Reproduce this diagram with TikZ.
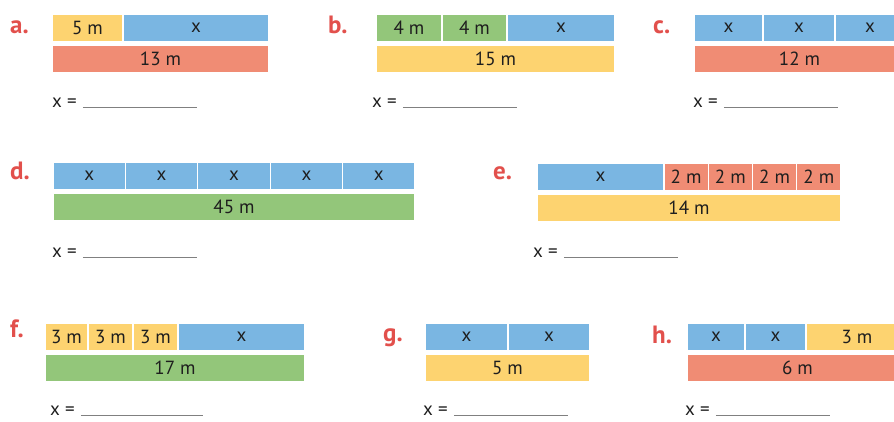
\documentclass[tikz,border=0pt]{standalone}
\usepackage{fontspec}
\setmainfont{PT Sans}
\usepackage{xcolor}
\usetikzlibrary{positioning}

\definecolor{barblue}{RGB}{122,182,226}
\definecolor{baryellow}{RGB}{253,211,112}
\definecolor{barred}{RGB}{240,140,116}
\definecolor{bargreen}{RGB}{147,198,122}
\definecolor{labred}{RGB}{226,80,76}
\definecolor{ink}{RGB}{30,30,30}

\begin{document}
\begin{tikzpicture}[
  x=1pt, y=-1pt,
  node distance=0pt,
  bar/.style={draw=white, line width=1.2pt, inner sep=0pt, outer sep=0pt,
              minimum height=28pt, font=\fontsize{19}{19}\selectfont, text=ink},
  xbox/.style={bar, fill=barblue},
  ybox/.style={bar, fill=baryellow},
  rbox/.style={bar, fill=barred},
  gbox/.style={bar, fill=bargreen},
  lab/.style={anchor=base west, inner sep=0pt,
              font=\fontsize{25}{25}\selectfont\bfseries, text=labred},
  ans/.style={anchor=base west, inner sep=0pt,
              font=\fontsize{19}{19}\selectfont, text=ink},
  blank/.style={draw=gray, line width=0.9pt}
]
  \path[use as bounding box] (0,0) rectangle (894,421);
  \clip (0,0) rectangle (894,421);

  % a.
  \node[lab] (la) at (10,33) {a.};
  \node[ybox, minimum width=71pt, anchor=north west] (a1) at (52,14) {5 m};
  \node[xbox, minimum width=146pt, right=of a1] (a2) {x};
  \node[rbox, minimum width=217pt, below=3pt of a1.south west, anchor=north west] (a3) {13 m};
  \node[ans] (xa) at (52,107) {x =};
  \draw[blank] ([xshift=6pt]xa.base east) -- ++(114,0);

  % b.
  \node[lab] (lb) at (328,33) {b.};
  \node[gbox, minimum width=66pt, anchor=north west] (b1) at (376,14) {4 m};
  \node[gbox, minimum width=65pt, right=of b1] (b2) {4 m};
  \node[xbox, minimum width=108pt, right=of b2] (b3) {x};
  \node[ybox, minimum width=239pt, below=3pt of b1.south west, anchor=north west] (b4) {15 m};
  \node[ans] (xb) at (372,107) {x =};
  \draw[blank] ([xshift=6pt]xb.base east) -- ++(114,0);

  % c.
  \node[lab] (lc) at (653,33) {c.};
  \node[xbox, minimum width=69pt, anchor=north west] (c1) at (694,14) {x};
  \node[xbox, minimum width=72pt, right=of c1] (c2) {x};
  \node[xbox, minimum width=70pt, right=of c2] (c3) {x};
  \node[rbox, minimum width=211pt, below=3pt of c1.south west, anchor=north west] (c4) {12 m};
  \node[ans] (xc) at (693,107) {x =};
  \draw[blank] ([xshift=6pt]xc.base east) -- ++(114,0);

  % d.
  \node[lab] (ld) at (10,179) {d.};
  \node[xbox, minimum width=72.4pt, anchor=north west] (d1) at (53,162) {x};
  \node[xbox, minimum width=72.4pt, right=of d1] (d2) {x};
  \node[xbox, minimum width=72.4pt, right=of d2] (d3) {x};
  \node[xbox, minimum width=72.4pt, right=of d3] (d4) {x};
  \node[xbox, minimum width=72.4pt, right=of d4] (d5) {x};
  \node[gbox, minimum width=362pt, below=3pt of d1.south west, anchor=north west] (d6) {45 m};
  \node[ans] (xd) at (52,257) {x =};
  \draw[blank] ([xshift=6pt]xd.base east) -- ++(114,0);

  % e.
  \node[lab] (le) at (493,179) {e.};
  \node[xbox, minimum width=127pt, anchor=north west] (e1) at (537,163) {x};
  \node[rbox, minimum width=44.25pt, right=of e1] (e2) {2 m};
  \node[rbox, minimum width=44.25pt, right=of e2] (e3) {2 m};
  \node[rbox, minimum width=44.25pt, right=of e3] (e4) {2 m};
  \node[rbox, minimum width=44.25pt, right=of e4] (e5) {2 m};
  \node[ybox, minimum width=304pt, below=3pt of e1.south west, anchor=north west] (e6) {14 m};
  \node[ans] (xe) at (533,257) {x =};
  \draw[blank] ([xshift=6pt]xe.base east) -- ++(114,0);

  % f.
  \node[lab] (lf) at (10,337) {f.};
  \node[ybox, minimum width=43pt, anchor=north west] (f1) at (45,323) {3 m};
  \node[ybox, minimum width=45pt, right=of f1] (f2) {3 m};
  \node[ybox, minimum width=45pt, right=of f2] (f3) {3 m};
  \node[xbox, minimum width=127pt, right=of f3] (f4) {x};
  \node[gbox, minimum width=260pt, below=3pt of f1.south west, anchor=north west] (f5) {17 m};
  \node[ans] (xf) at (50,415) {x =};
  \draw[blank] ([xshift=6pt]xf.base east) -- ++(122,0);

  % g.
  \node[lab] (lg) at (383,341) {g.};
  \node[xbox, minimum width=83pt, anchor=north west] (g1) at (425,323) {x};
  \node[xbox, minimum width=82pt, right=of g1] (g2) {x};
  \node[ybox, minimum width=165pt, below=3pt of g1.south west, anchor=north west] (g3) {5 m};
  \node[ans] (xg) at (423,415) {x =};
  \draw[blank] ([xshift=6pt]xg.base east) -- ++(114,0);

  % h.
  \node[lab] (lh) at (652,343) {h.};
  \node[xbox, minimum width=58pt, anchor=north west] (h1) at (687,323) {x};
  \node[xbox, minimum width=61pt, right=of h1] (h2) {x};
  \node[ybox, minimum width=102pt, right=of h2] (h3) {3 m};
  \node[rbox, minimum width=221pt, below=3pt of h1.south west, anchor=north west] (h4) {6 m};
  \node[ans] (xh) at (685,415) {x =};
  \draw[blank] ([xshift=6pt]xh.base east) -- ++(114,0);
\end{tikzpicture}
\end{document}
